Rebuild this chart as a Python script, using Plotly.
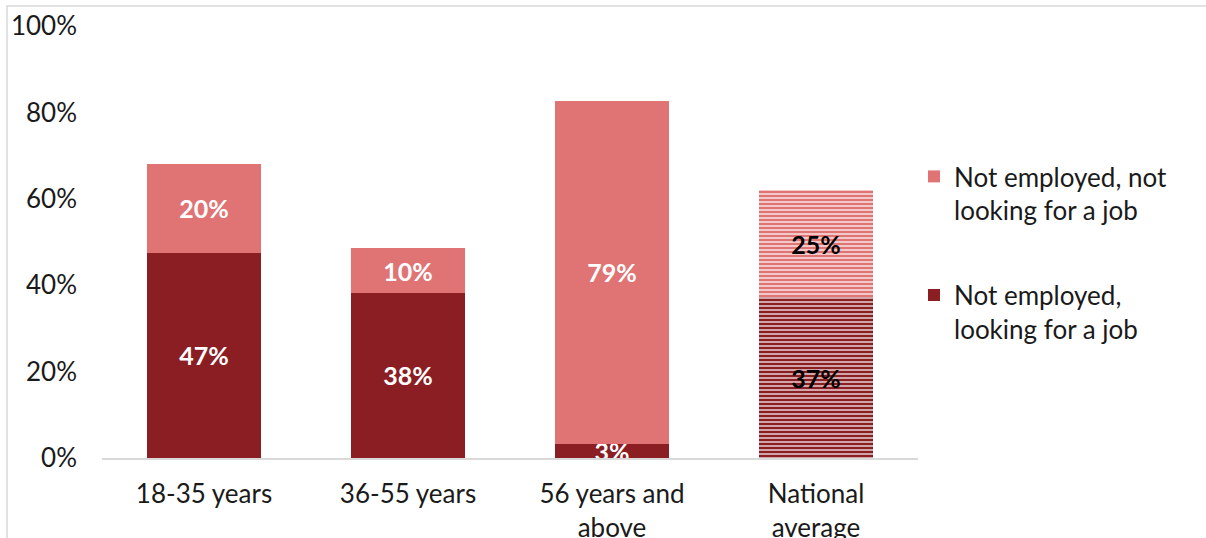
import plotly.graph_objects as go

categories = ["18-35 years", "36-55 years", "56 years and<br>above", "National<br>average"]
looking = [47.5, 38.3, 3.3, 37.2]
not_looking = [20.6, 10.2, 79.4, 24.9]
looking_labels = ["47%", "38%", "3%", "37%"]
not_looking_labels = ["20%", "10%", "79%", "25%"]
tick_vals = [0, 20, 40, 60, 80, 100]
tick_text = ["0%", "20%", "40%", "60%", "80%", "100%"]

DARK = "#8B1E23"
LIGHT = "#E07475"
FONT = "Lato"
FS = 26

fig = go.Figure()

n = len(categories)
shapes_pat = [""] * (n - 1) + ["-"]
text_col = ["white"] * (n - 1) + ["black"]

fig.add_trace(go.Bar(
    x=categories, y=looking, name="Not employed,<br>looking for a job",
    marker=dict(color=[DARK] * n, line=dict(width=0),
                pattern=dict(shape=shapes_pat, fgcolor=DARK, bgcolor="#f3dede",
                             size=4, solidity=0.7, fillmode="replace")),
    text=looking_labels, textposition="inside", insidetextanchor="middle",
    textfont=dict(family=FONT, size=25, color=text_col, weight="bold"),
    legendgroup="a", legendrank=2, width=0.56,
))
fig.add_trace(go.Bar(
    x=categories, y=not_looking, name="Not employed, not<br>looking for a job",
    marker=dict(color=[LIGHT] * n, line=dict(width=0),
                pattern=dict(shape=shapes_pat, fgcolor=LIGHT, bgcolor="#fbeaea",
                             size=4, solidity=0.7, fillmode="replace")),
    text=not_looking_labels, textposition="inside", insidetextanchor="middle",
    textfont=dict(family=FONT, size=25, color=text_col, weight="bold"),
    legendgroup="b", legendrank=1, width=0.56,
))

FW, FH = 1206, 538
W0, W1 = 102, 918
H0, H1 = 26, 458
pw = W1 - W0
ph = H1 - H0

fig.update_layout(
    width=FW, height=FH,
    barmode="stack",
    plot_bgcolor="white", paper_bgcolor="white",
    margin=dict(l=W0, r=FW - W1, t=H0, b=FH - H1, pad=0, autoexpand=False),
    font=dict(family=FONT, size=FS, color="#1a1a1a"),
    uniformtext=dict(minsize=25, mode="show"),
    showlegend=True,
    legend=dict(x=(914 - W0) / pw, y=(H1 - 153) / ph, xanchor="left", yanchor="top",
                traceorder="grouped", tracegroupgap=48, valign="top",
                font=dict(family=FONT, size=FS, color="#1a1a1a"),
                itemwidth=30, bgcolor="rgba(0,0,0,0)"),
    xaxis=dict(showline=True, linecolor="#d9d9d9", linewidth=1.5, ticks="",
               ticklabelstandoff=12, automargin=False,
               tickfont=dict(family=FONT, size=FS, color="#1a1a1a")),
    yaxis=dict(range=[0, 100], tickvals=tick_vals, ticktext=tick_text,
               showgrid=False, zeroline=False, showline=False,
               ticklabelstandoff=24, automargin=False,
               tickfont=dict(family=FONT, size=FS, color="#1a1a1a")),
    shapes=[dict(type="rect", xref="paper", yref="paper",
                 x0=(7 - W0) / pw, x1=(1220 - W0) / pw,
                 y0=(H1 - 600) / ph, y1=(H1 - 6) / ph,
                 line=dict(color="#d9d9d9", width=1.5), fillcolor="rgba(0,0,0,0)",
                 layer="below")],
)

fig.write_html("out.html", config={"displayModeBar": False},
               post_script="document.body.style.margin='0';document.body.style.overflow='hidden';")
